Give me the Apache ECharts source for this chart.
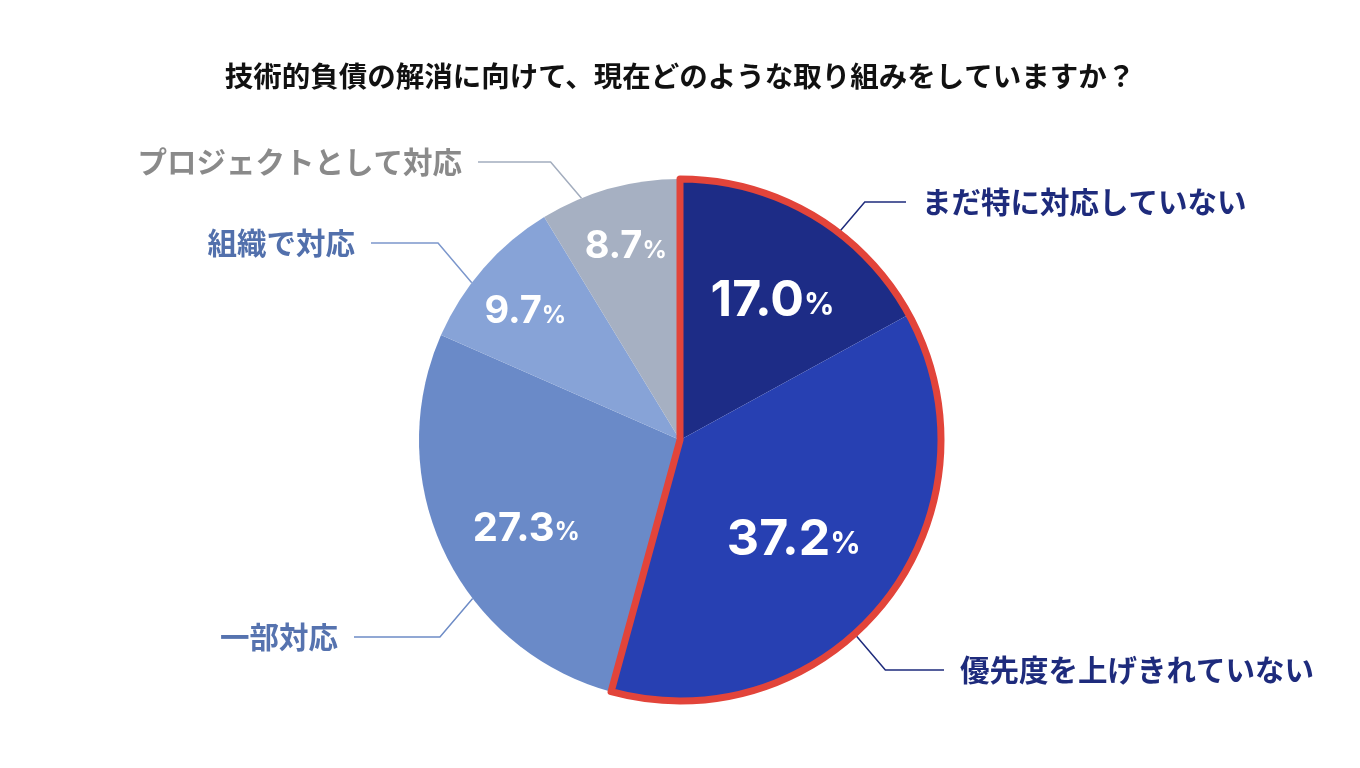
<!DOCTYPE html>
<html>
<head>
<meta charset="utf-8">
<script src="https://cdn.jsdelivr.net/npm/echarts@6/dist/echarts.min.js"></script>
<style>
  html, body { margin: 0; padding: 0; background: #fff; }
  #chart { width: 1360px; height: 768px; }
</style>
</head>
<body>
<div id="chart"></div>
<script>
const TITLE = "技術的負債の解消に向けて、現在どのような取り組みをしていますか？";
const CATEGORIES = ["まだ特に対応していない", "優先度を上げきれていない", "一部対応", "組織で対応", "プロジェクトとして対応"];
const SHARES = [17.0, 37.2, 27.3, 9.7, 8.7];
const OUTLINED_COUNT = 2; // first two slices get the red outline

const SLICE_COLORS = ["#1D2C86", "#2740B2", "#6A8AC8", "#87A3D7", "#A6B0C2"];
const LABEL_COLORS = ["#1E2B7C", "#1E2B7C", "#5673AF", "#5270AC", "#8A8A8A"];
const LINE_COLORS = ["#1E2B7C", "#1E2B7C", "#6E8CC6", "#7C97CC", "#A3ADBE"];

// layout
const CX = 680, CY = 440, R = 261;
const NAME_LAYOUT = [
  { da: 6.8, x: 922, y: 202 },
  { da: 9.7, x: 960, y: 670 },
  { da: -11.9, x: 338, y: 637 },
  { da: -4.1, x: 355, y: 243 },
  { da: -6.5, x: 462, y: 162 },
];
const INNER_RATIO = [0.64, 0.58, 0.68, 0.77, 0.77];
const INNER_TURN = [3, 3, -4.5, -1.5, 0];
const NUM_SIZE = [50, 50, 40, 38, 38];
const PCT_SIZE = [30, 30, 25, 24, 24];

const total = SHARES.reduce((a, b) => a + b, 0);
const midAngles = [];
let acc = 0;
SHARES.forEach((v) => {
  midAngles.push(((acc + v / 2) / total) * 360);
  acc += v;
});

function polar(deg, r) {
  const a = (deg * Math.PI) / 180;
  return [CX + r * Math.sin(a), CY - r * Math.cos(a)];
}

const myChart = echarts.init(document.getElementById("chart"), null, { renderer: "canvas" });

const outlined = SHARES.slice(0, OUTLINED_COUNT).reduce((a, b) => a + b, 0);

const option = {
  animation: false,
  title: {
    text: TITLE,
    left: "center",
    top: 57,
    textStyle: {
      fontFamily: "Noto Sans CJK JP",
      fontSize: 28.5,
      fontWeight: "bold",
      color: "#111",
    },
  },
  series: [
    {
      // slices + category names
      type: "pie",
      center: [CX, CY],
      radius: R,
      startAngle: 90,
      clockwise: true,
      silent: true,
      data: SHARES.map((v, i) => ({
        name: CATEGORIES[i],
        value: v,
        itemStyle: { color: SLICE_COLORS[i] },
        label: { color: LABEL_COLORS[i] },
        labelLine: { lineStyle: { color: LINE_COLORS[i], width: 1.5 } },
      })),
      label: {
        show: true,
        position: "outside",
        formatter: "{b}",
        fontFamily: "Noto Sans CJK JP",
        fontSize: 29.5,
        fontWeight: "bold",
      },
      labelLine: { show: true, smooth: false },
      labelLayout: (params) => {
        const i = params.dataIndex;
        const L = NAME_LAYOUT[i];
        const right = L.x > CX;
        const p0 = polar(midAngles[i] + L.da, R);
        const dy = Math.abs(L.y - p0[1]);
        const elbow = [p0[0] + (right ? 1 : -1) * 0.85 * dy, L.y];
        const end = [L.x + (right ? -16 : 16), L.y];
        return {
          x: L.x,
          y: L.y,
          align: right ? "left" : "right",
          verticalAlign: "middle",
          labelLinePoints: [p0, elbow, end],
        };
      },
    },
    {
      // red outline around the first two slices
      type: "pie",
      center: [CX, CY],
      radius: R,
      startAngle: 90,
      clockwise: true,
      silent: true,
      z: 3,
      label: { show: false },
      labelLine: { show: false },
      data: [
        { value: outlined, itemStyle: { color: "rgba(0,0,0,0)", borderColor: "#E2443A", borderWidth: 7 } },
        { value: total - outlined, itemStyle: { color: "rgba(0,0,0,0)", borderWidth: 0 } },
      ],
    },
    {
      // percentage labels inside the slices
      type: "pie",
      center: [CX, CY],
      radius: R,
      startAngle: 90,
      clockwise: true,
      silent: true,
      z: 4,
      itemStyle: { color: "rgba(0,0,0,0)" },
      data: SHARES.map((v, i) => ({
        name: CATEGORIES[i],
        value: v,
        label: {
          rich: {
            n: { fontFamily: "Inter", fontWeight: "bold", fontSize: NUM_SIZE[i], color: "#fff" },
            p: { fontFamily: "Inter", fontWeight: "bold", fontSize: PCT_SIZE[i], color: "#fff", padding: [8, 0, 0, 0] },
          },
        },
      })),
      label: {
        show: true,
        position: "inside",
        formatter: (p) => "{n|" + p.value.toFixed(1) + "}{p|%}",
      },
      labelLine: { show: false },
      labelLayout: (params) => {
        const i = params.dataIndex;
        const pt = polar(midAngles[i] + INNER_TURN[i], R * INNER_RATIO[i]);
        return { x: pt[0], y: pt[1], align: "center", verticalAlign: "middle" };
      },
    },
  ],
};

myChart.setOption(option);
</script>
</body>
</html>
